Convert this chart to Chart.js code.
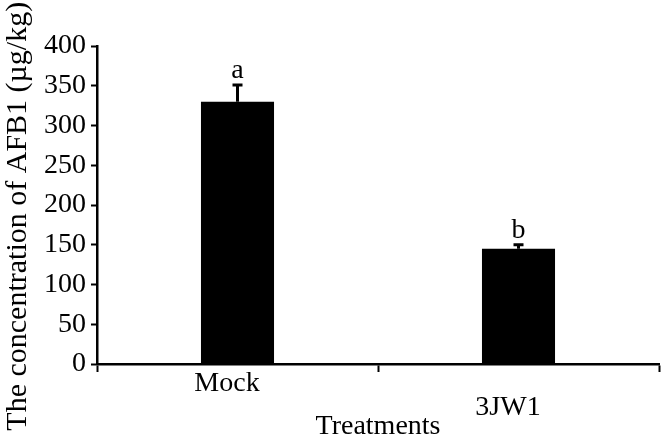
<!DOCTYPE html>
<html>
<head>
<meta charset="utf-8">
<script src="https://cdn.jsdelivr.net/npm/chart.js@4/dist/chart.umd.min.js"></script>
<style>
  html, body { margin: 0; padding: 0; background: #fff; }
  #wrap { width: 665px; height: 439px; }
</style>
</head>
<body>
<div id="wrap"><canvas id="grafico"></canvas></div>
<script>
// Dados
const tratamentos = ['Mock', '3JW1'];
const concentracao = [330, 145];
const erroSuperior = [21, 5];
const letras = ['a', 'b'];

const FONTE = "'Liberation Serif', 'Times New Roman', serif";

// Plugin para barras de erro e letras de significancia
const barrasErro = {
    id: 'barrasErro',
    afterDatasetsDraw(chart) {
        const ctx = chart.ctx;
        const y = chart.scales.y;
        const meta = chart.getDatasetMeta(0);
        ctx.save();
        ctx.strokeStyle = '#000';
        ctx.fillStyle = '#000';
        ctx.lineWidth = 3;
        meta.data.forEach((barra, i) => {
            const topo = y.getPixelForValue(concentracao[i] + erroSuperior[i]);
            const base = y.getPixelForValue(concentracao[i]);
            ctx.beginPath();
            ctx.moveTo(barra.x, base);
            ctx.lineTo(barra.x, topo);
            ctx.moveTo(barra.x - 5, topo);
            ctx.lineTo(barra.x + 5, topo);
            ctx.stroke();

            ctx.font = '28px ' + FONTE;
            ctx.textAlign = 'center';
            ctx.textBaseline = 'alphabetic';
            ctx.fillText(letras[i], barra.x, topo - 7);
        });
        ctx.restore();
    }
};

// rotulos alternados e um pouco a esquerda, como no original
function rotuloX(v, i) {
    const txt = tratamentos[i] + '\u00a0\u00a0\u00a0';
    return i % 2 ? ['', txt] : txt;
}

new Chart(document.getElementById('grafico'), {
    type: 'bar',
    data: {
        labels: tratamentos,
        datasets: [{
            data: concentracao,
            backgroundColor: '#000',
            borderWidth: 0,
            barPercentage: 0.26,
            categoryPercentage: 1
        }]
    },
    options: {
        responsive: true,
        maintainAspectRatio: false,
        animation: false,
        layout: { padding: { top: 46, right: 6, left: 0, bottom: 0 } },
        plugins: {
            legend: { display: false },
            tooltip: { enabled: false }
        },
        scales: {
            x: {
                grid: {
                    drawOnChartArea: false,
                    drawTicks: true,
                    tickLength: 8,
                    tickWidth: 2,
                    tickColor: '#000',
                    offset: true
                },
                border: { display: true, color: '#000', width: 2.5 },
                ticks: {
                    color: '#000',
                    padding: 0,
                    maxRotation: 0,
                    font: { family: FONTE, size: 28, lineHeight: 0.85 },
                    callback: rotuloX
                },
                title: {
                    display: true,
                    text: 'Treatments',
                    color: '#000',
                    font: { family: FONTE, size: 28, lineHeight: 1 },
                    padding: { top: 0, bottom: -2 }
                },
                afterFit: (s) => { s.height = 75; }
            },
            y: {
                min: 0,
                max: 400,
                grid: {
                    drawOnChartArea: false,
                    drawTicks: true,
                    tickLength: 6,
                    tickWidth: 2,
                    tickColor: '#000'
                },
                border: { display: true, color: '#000', width: 2.5 },
                ticks: {
                    stepSize: 50,
                    color: '#000',
                    padding: 5,
                    font: { family: FONTE, size: 28 }
                },
                title: {
                    display: true,
                    // espacos no fim empurram o titulo um pouco para baixo
                    text: 'The concentration of AFB1 (µg/kg)\u00a0\u00a0\u00a0',
                    color: '#000',
                    font: { family: FONTE, size: 30 },
                    padding: { top: 0, bottom: 0 }
                },
                afterFit: (s) => { s.width = 97; }
            }
        }
    },
    plugins: [barrasErro]
});
</script>
</body>
</html>
